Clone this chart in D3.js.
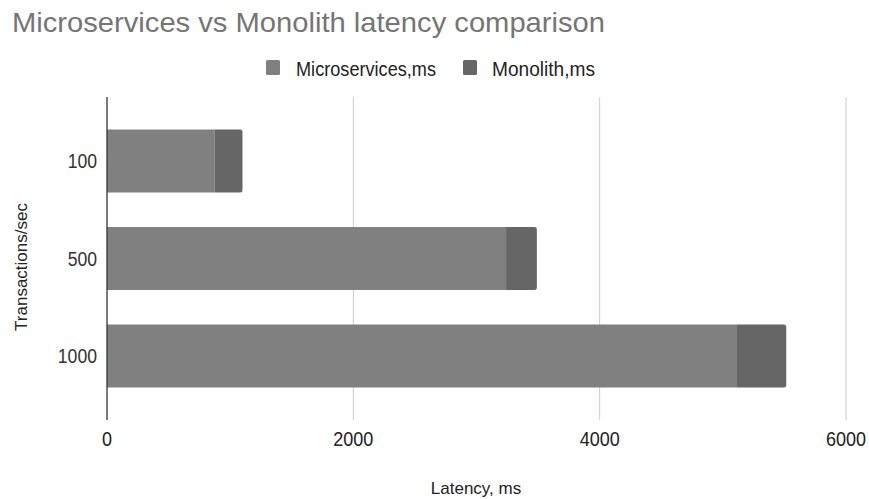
<!DOCTYPE html>
<html><head><meta charset="utf-8">
<script src="https://cdn.jsdelivr.net/npm/d3@7"></script>
<style>body{margin:0;background:#fff}svg{display:block}text{font-family:"Liberation Sans",Arial,sans-serif}</style>
</head><body><svg id="c" width="869" height="499"></svg>
<script>
const categories = ["100", "500", "1000"];
const microservices = [875, 3240, 5115];
const monolith = [225, 250, 400];
const seriesNames = ["Microservices,ms", "Monolith,ms"];
const xTicks = [0, 2000, 4000, 6000];
const colors = ["#808080", "#666666"];

(function () {
const svg = d3.select("#c");
const pL = 107, pR = 846, pT = 97, pB = 420;
const x = d3.scaleLinear().domain([0, 6000]).range([pL, pR]);
const y = d3.scaleBand().domain(categories).range([pT, pB]).paddingInner(0.354).paddingOuter(0.333);

function squeeze(sel, ratio) {
  sel.each(function () {
    const w = this.getComputedTextLength();
    d3.select(this).attr("textLength", w * ratio).attr("lengthAdjust", "spacingAndGlyphs");
  });
}

// gridlines
svg.append("g").selectAll("line").data(xTicks.slice(1)).join("line")
  .attr("x1", d => x(d)).attr("x2", d => x(d)).attr("y1", pT).attr("y2", pB)
  .attr("stroke", "#cccccc").attr("stroke-width", 1);

const rows = categories.map((c, i) => ({c, m: microservices[i], o: monolith[i]}));
const stack = d3.stack().keys(["m", "o"])(rows);

const g = svg.append("g");
stack.forEach((s, si) => {
  g.append("g").selectAll("path").data(s).join("path")
    .attr("fill", colors[si])
    .attr("d", d => {
      const x0 = x(d[0]), x1 = x(d[1]), y0 = y(d.data.c), h = y.bandwidth();
      if (si === 1) {
        const r = 2.5;
        return `M${x0},${y0}H${x1 - r}Q${x1},${y0} ${x1},${y0 + r}V${y0 + h - r}Q${x1},${y0 + h} ${x1 - r},${y0 + h}H${x0}Z`;
      }
      return `M${x0},${y0}H${x1}V${y0 + h}H${x0}Z`;
    });
});

// axis line
svg.append("line").attr("x1", x(0)).attr("x2", x(0)).attr("y1", pT).attr("y2", pB)
  .attr("stroke", "#333").attr("stroke-width", 1.3);

// x tick labels
const xt = svg.append("g").selectAll("text").data(xTicks).join("text")
  .attr("x", d => x(d)).attr("y", 446).attr("text-anchor", "middle")
  .attr("font-size", 20).attr("fill", "#222").text(d => d);
squeeze(xt, 0.9);

// y tick labels
const yt = svg.append("g").selectAll("text").data(categories).join("text")
  .attr("x", 97).attr("y", d => y(d) + y.bandwidth() / 2 + 7).attr("text-anchor", "end")
  .attr("font-size", 20).attr("fill", "#333").text(d => d);
squeeze(yt, 0.88);

// titles
svg.append("text").attr("x", 12).attr("y", 32).attr("font-size", 28).attr("fill", "#757575")
  .attr("textLength", 593).attr("lengthAdjust", "spacingAndGlyphs")
  .text("Microservices vs Monolith latency comparison");
svg.append("text").attr("x", 476).attr("y", 494).attr("text-anchor", "middle")
  .attr("font-size", 17).attr("fill", "#222").text("Latency, ms");
svg.append("text").attr("transform", "translate(27,267) rotate(-90)").attr("text-anchor", "middle")
  .attr("font-size", 17).attr("fill", "#222").text("Transactions/sec");

// legend
const leg = [{x: 266, tx: 296, w: 140}, {x: 463, tx: 492, w: 103}];
seriesNames.forEach((n, i) => {
  svg.append("rect").attr("x", leg[i].x).attr("y", 60).attr("width", 14).attr("height", 15)
    .attr("rx", 1.5).attr("fill", colors[i]);
  svg.append("text").attr("x", leg[i].tx).attr("y", 76).attr("font-size", 20).attr("fill", "#222")
    .attr("textLength", leg[i].w).attr("lengthAdjust", "spacingAndGlyphs").text(n);
});
})();
</script></body></html>
